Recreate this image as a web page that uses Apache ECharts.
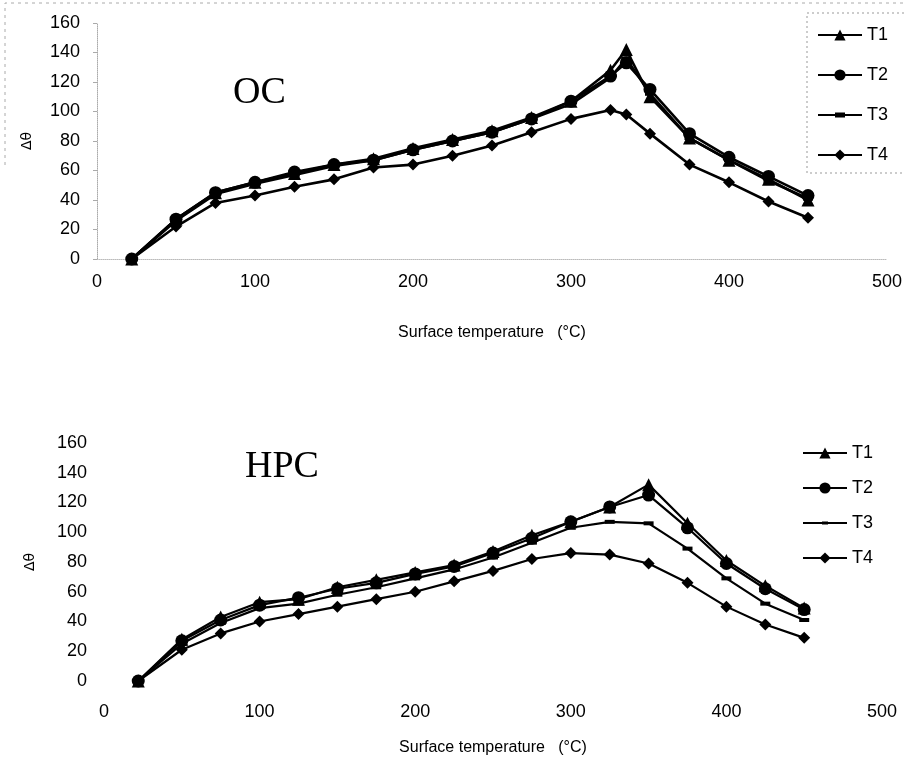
<!DOCTYPE html>
<html>
<head>
<meta charset="utf-8">
<script src="https://cdn.jsdelivr.net/npm/echarts@6/dist/echarts.min.js"></script>
<style>
  html, body { margin: 0; padding: 0; background: #fff; }
  #chart { width: 905px; height: 770px; }
</style>
</head>
<body>
<div id="chart"></div>
<script>
// OC panel data
const tempOC = [22, 50, 75, 100, 125, 150, 175, 200, 225, 250, 275, 300, 325, 335, 350, 375, 400, 425, 450];
const ocT1 = [0, 27, 45, 52, 58, 64, 68, 75, 81, 87, 96, 107, 128, 142, 110, 82, 67, 54, 40];
const ocT2 = [0, 27, 45, 52, 59, 64, 67, 74, 80, 86, 95, 107, 124, 133, 115, 85, 69, 56, 43];
const ocT3 = [0, 26, 44, 51, 57, 63, 67, 74, 80, 86, 95, 105, 123, 136, 112, 82, 67, 53, 41];
const ocT4 = [0, 22, 38, 43, 49, 54, 62, 64, 70, 77, 86, 95, 101, 98, 85, 64, 52, 39, 28];

// HPC panel data
const tempHPC = [22, 50, 75, 100, 125, 150, 175, 200, 225, 250, 275, 300, 325, 350, 375, 400, 425, 450];
const hpcT1 = [0, 28, 43, 53, 55, 63, 68, 73, 78, 87, 98, 107, 117, 132, 106, 81, 64, 49];
const hpcT2 = [0, 27, 41, 51, 56, 62, 66, 72, 77, 86, 96, 107, 117, 125, 103, 79, 62, 48];
const hpcT3 = [0, 25, 39, 49, 52, 58, 63, 69, 75, 83, 93, 103, 107, 106, 89, 69, 52, 41];
const hpcT4 = [0, 21, 32, 40, 45, 50, 55, 60, 67, 74, 82, 86, 85, 79, 66, 50, 38, 29];

const seriesNames = ['T1', 'T2', 'T3', 'T4'];
const xTitle = 'Surface temperature   (°C)';
const yTitle = 'Δθ';

const symbols = ['triangle', 'circle', 'rect', 'diamond'];
const symbolSizes = [13, 13, [10, 4], 12];

// legend icon for T3: line with a flat bar in the middle (bbox = 44x14)
const t3IconTop = 'path://M0,0h0.01v0.01h-0.01z M0,6h44v2h-44z M17,4.5h10v5h-10z M43.99,13.99h0.01v0.01h-0.01z';
const t3IconBottom = 'path://M0,0h0.01v0.01h-0.01z M0,6h44v2h-44z M19,5.5h6v3h-6z M43.99,13.99h0.01v0.01h-0.01z';

const pair = (xs, ys) => xs.map((x, i) => [x, ys[i]]);

const makeSeries = (xs, sets, gridIdx, lw) =>
  sets.map((ys, i) => ({
    name: seriesNames[i],
    type: 'line',
    xAxisIndex: gridIdx,
    yAxisIndex: gridIdx,
    data: pair(xs, ys),
    symbol: symbols[i],
    symbolSize: symbolSizes[i],
    showSymbol: true,
    color: '#000',
    lineStyle: { color: '#000', width: lw },
    itemStyle: { color: '#000' }
  }));

const labelFont = { fontFamily: 'Liberation Sans', fontSize: 18, color: '#000' };

const legendData = (t3Icon) =>
  seriesNames.map((n) => (n === 'T3' ? { name: n, icon: t3Icon } : { name: n }));

const makeX = (gridIdx, margin, nameGap) => ({
  type: 'value',
  gridIndex: gridIdx,
  min: 0,
  max: 500,
  interval: 100,
  name: xTitle,
  nameLocation: 'middle',
  nameGap: nameGap,
  nameTextStyle: { fontFamily: 'Liberation Sans', fontSize: 16, color: '#000' },
  axisLine: { show: gridIdx === 0, lineStyle: { color: '#bbb', type: 'dotted' } },
  axisTick: { show: false },
  splitLine: { show: false },
  axisLabel: Object.assign({ margin: margin }, labelFont)
});

const makeY = (gridIdx, nameGap) => ({
  type: 'value',
  gridIndex: gridIdx,
  min: 0,
  max: 160,
  interval: 20,
  name: yTitle,
  nameLocation: 'middle',
  nameRotate: 90,
  nameGap: nameGap,
  nameTextStyle: { fontFamily: 'DejaVu Sans', fontSize: 14, color: '#000' },
  axisLine: { show: gridIdx === 0, lineStyle: { color: '#aaa', type: 'dotted' } },
  axisTick: { show: gridIdx === 0, length: 4, lineStyle: { color: '#aaa' } },
  splitLine: { show: false },
  axisLabel: Object.assign({ margin: 17 }, labelFont)
});

const chart = echarts.init(document.getElementById('chart'));

const series = []
  .concat(makeSeries(tempOC, [ocT1, ocT2, ocT3, ocT4], 0, 2.6))
  .concat(makeSeries(tempHPC, [hpcT1, hpcT2, hpcT3, hpcT4], 1, 2.2));

chart.setOption({
  animation: false,
  backgroundColor: '#fff',
  title: [
    {
      text: 'OC',
      left: 228,
      top: 69,
      textStyle: { fontFamily: 'Liberation Serif', fontSize: 38, fontWeight: 'normal', color: '#000' }
    },
    {
      text: 'HPC',
      left: 240,
      top: 443,
      textStyle: { fontFamily: 'Liberation Serif', fontSize: 38, fontWeight: 'normal', color: '#000' }
    }
  ],
  legend: [
    {
      data: legendData(t3IconTop),
      orient: 'vertical',
      left: 812,
      top: 21,
      itemWidth: 44,
      itemHeight: 14,
      itemGap: 22,
      textStyle: labelFont
    },
    {
      data: legendData(t3IconBottom),
      orient: 'vertical',
      left: 797,
      top: 439,
      itemWidth: 44,
      itemHeight: 14,
      itemGap: 17,
      textStyle: labelFont
    }
  ],
  grid: [
    { left: 97, top: 23, width: 790, height: 236 },
    { left: 104, top: 443, width: 778, height: 238 }
  ],
  xAxis: [makeX(0, 14, 66), makeX(1, 22, 59)],
  yAxis: [makeY(0, 63), makeY(1, 67)],
  graphic: [
    {
      type: 'rect',
      shape: { x: 807, y: 13, width: 120, height: 160 },
      style: { fill: 'none', stroke: '#999', lineWidth: 1, lineDash: [2, 3] },
      z: 0
    },
    {
      type: 'polyline',
      shape: { points: [[5, 165], [5, 3], [905, 3]] },
      style: { fill: 'none', stroke: '#aaa', lineWidth: 1, lineDash: [3, 4] },
      z: 0
    }
  ],
  series: series
});
</script>
</body>
</html>
